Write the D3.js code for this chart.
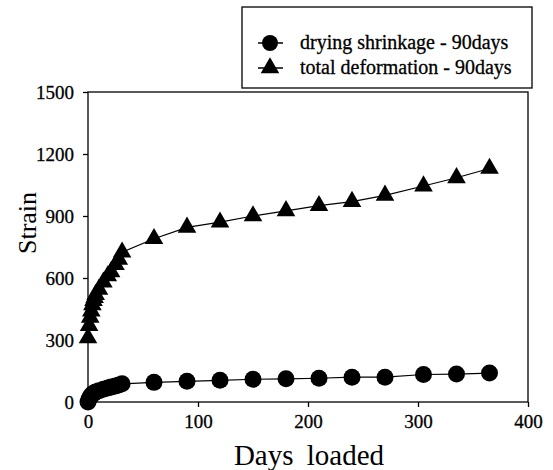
<!DOCTYPE html>
<html>
<head>
<meta charset="utf-8">
<script src="https://cdn.jsdelivr.net/npm/d3@7"></script>
<style>
  body { margin: 0; background: #fff; }
  svg { display: block; }
  text { font-family: "Liberation Serif", serif; fill: #000; }
  .axis path, .axis line { stroke: #000; stroke-width: 1.3; }
</style>
</head>
<body>
<script>
'use strict';

// Napok (x) és az alakváltozás (y) értékei
var shrinkDays   = [0, 1, 2, 3, 4, 5, 6, 7, 10, 14, 18, 21, 25, 28, 31, 60, 90, 120, 150, 180, 210, 240, 270, 305, 335, 365];
var shrinkValues = [0, 15, 25, 32, 38, 42, 45, 48, 55, 62, 68, 72, 78, 82, 88, 95, 100, 105, 110, 112, 115, 120, 120, 133, 135, 140];

var totalDays   = [0, 1, 2, 3, 4, 5, 6, 7, 10, 14, 18, 21, 25, 28, 31, 60, 90, 120, 150, 180, 210, 240, 270, 305, 335, 365];
var totalValues = [310, 370, 410, 440, 470, 490, 505, 520, 545, 580, 610, 630, 665, 690, 725, 790, 845, 870, 900, 925, 950, 970, 1000, 1045, 1085, 1130];

var xTicks = [0, 100, 200, 300, 400];
var yTicks = [0, 300, 600, 900, 1200, 1500];

var legendLabels = ["drying shrinkage - 90days", "total deformation - 90days"];

var W = 553, H = 470;
var plotLeft = 88, plotRight = 528, plotTop = 92, plotBottom = 402;
var serif = "'Liberation Serif', 'Times New Roman', serif";

var svg = d3.select("body").append("svg")
    .attr("width", W)
    .attr("height", H);

var x = d3.scaleLinear().domain([0, 400]).range([plotLeft, plotRight]);
var y = d3.scaleLinear().domain([0, 1500]).range([plotBottom, plotTop]);

// Keret
svg.append("rect")
    .attr("x", plotLeft).attr("y", plotTop)
    .attr("width", plotRight - plotLeft).attr("height", plotBottom - plotTop)
    .attr("fill", "none").attr("stroke", "#000").attr("stroke-width", 1.3);

var gx = svg.append("g")
    .attr("class", "axis")
    .attr("transform", "translate(0," + plotBottom + ")")
    .call(d3.axisBottom(x).tickValues(xTicks).tickSize(5).tickPadding(8).tickFormat(d3.format("d")));

var gy = svg.append("g")
    .attr("class", "axis")
    .attr("transform", "translate(" + plotLeft + ",0)")
    .call(d3.axisLeft(y).tickValues(yTicks).tickSize(5).tickPadding(9).tickFormat(d3.format("d")));

[gx, gy].forEach(function(g) {
    g.select(".domain").remove();
    g.attr("font-family", null).attr("font-size", null);
    g.selectAll("text")
        .style("font-family", serif)
        .style("font-size", "19px")
        .style("stroke", "#000").style("stroke-width", 0.3);
});

// Tengelyfeliratok
svg.append("text")
    .attr("transform", "translate(36,223) rotate(-90)")
    .attr("text-anchor", "middle")
    .style("font-family", serif)
    .style("font-size", "26px")
    .text("Strain");

svg.append("text")
    .attr("x", 309).attr("y", 465)
    .attr("text-anchor", "middle")
    .style("font-family", serif)
    .style("font-size", "29px")
    .style("word-spacing", "6px")
    .text("Days loaded");

var line = d3.line()
    .x(function(d) { return x(d[0]); })
    .y(function(d) { return y(d[1]); });

var shrink = d3.zip(shrinkDays, shrinkValues);
var total = d3.zip(totalDays, totalValues);

var triangle = d3.symbol().type(d3.symbolTriangle).size(150);

svg.append("path").datum(shrink)
    .attr("d", line).attr("fill", "none").attr("stroke", "#000").attr("stroke-width", 1.2);
svg.append("path").datum(total)
    .attr("d", line).attr("fill", "none").attr("stroke", "#000").attr("stroke-width", 1.2);

svg.append("g").selectAll("circle").data(shrink)
    .enter().append("circle")
    .attr("cx", function(d) { return x(d[0]); })
    .attr("cy", function(d) { return y(d[1]); })
    .attr("r", 8.5)
    .attr("fill", "#000");

svg.append("g").selectAll("path").data(total)
    .enter().append("path")
    .attr("d", triangle)
    .attr("transform", function(d) { return "translate(" + x(d[0]) + "," + y(d[1]) + ")"; })
    .attr("fill", "#000");

// Jelkulcs
var legend = svg.append("g");
legend.append("rect")
    .attr("x", 242).attr("y", 7)
    .attr("width", 290).attr("height", 81)
    .attr("fill", "#fff").attr("stroke", "#000").attr("stroke-width", 1.3);

legendLabels.forEach(function(label, i) {
    var ly = 43 + i * 25;
    legend.append("line")
        .attr("x1", 258).attr("x2", 283)
        .attr("y1", ly).attr("y2", ly)
        .attr("stroke", "#000").attr("stroke-width", 1.5);
    if (i === 0) {
        legend.append("circle").attr("cx", 270).attr("cy", ly).attr("r", 8).attr("fill", "#000");
    } else {
        legend.append("path").attr("d", triangle)
            .attr("transform", "translate(270," + ly + ")").attr("fill", "#000");
    }
    legend.append("text")
        .attr("x", 300).attr("y", ly + 6)
        .style("font-family", serif)
        .style("font-size", "20px")
        .style("stroke", "#000").style("stroke-width", 0.3)
        .text(label);
});
</script>
</body>
</html>
